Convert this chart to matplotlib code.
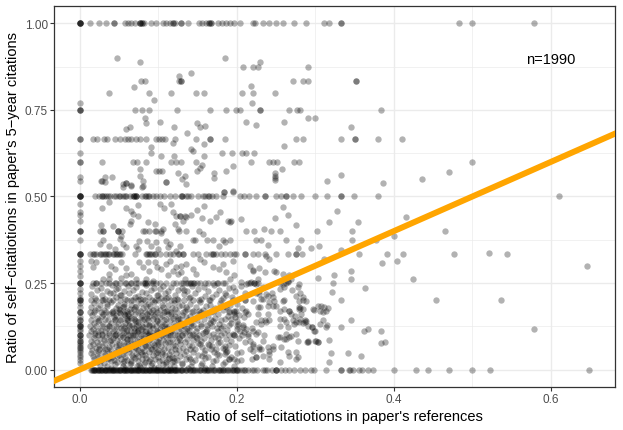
import matplotlib
matplotlib.use('Agg')
import matplotlib.pyplot as plt
import numpy as np

# x = 0 column (no self-citations in references)
col_zero_y = [1.0, 1.0, 1.0, 1.0, 1.0, 0.769, 0.75, 0.75, 0.75, 0.667, 0.667, 0.625, 0.6, 0.6,
              0.556, 0.545, 0.5, 0.5, 0.5, 0.5, 0.5, 0.478, 0.454, 0.447, 0.43, 0.4, 0.4, 0.4,
              0.375, 0.333, 0.333, 0.333, 0.333, 0.315, 0.298, 0.286, 0.271, 0.25, 0.25, 0.25,
              0.25, 0.233, 0.222, 0.207, 0.2, 0.2, 0.2, 0.193, 0.182, 0.167, 0.167, 0.167, 0.152,
              0.143, 0.143, 0.133, 0.125, 0.125, 0.125, 0.118, 0.111, 0.1, 0.1, 0.1, 0.091, 0.083,
              0.083, 0.077, 0.071, 0.0667, 0.0625, 0.057, 0.05, 0.043, 0.037, 0.028, 0.02]

# horizontal rows at common ratios: x values
row_zero = [0.015, 0.017, 0.019, 0.021, 0.023, 0.025, 0.027, 0.029, 0.031, 0.033, 0.035, 0.037,
            0.039, 0.041, 0.043, 0.045, 0.047, 0.049, 0.051, 0.053, 0.055, 0.057, 0.059, 0.061,
            0.063, 0.065, 0.067, 0.069, 0.071, 0.073, 0.075, 0.077, 0.079, 0.081, 0.083, 0.085,
            0.087, 0.089, 0.091, 0.093, 0.095, 0.097, 0.099, 0.101, 0.103, 0.105, 0.107, 0.109,
            0.111, 0.113, 0.115, 0.117, 0.119, 0.121, 0.123, 0.125, 0.128, 0.131, 0.134, 0.137,
            0.140, 0.143, 0.146, 0.149, 0.152, 0.155, 0.158, 0.161, 0.164, 0.167, 0.170, 0.173,
            0.176, 0.179, 0.182, 0.185, 0.188, 0.191, 0.194, 0.197, 0.200, 0.203, 0.207, 0.211,
            0.215, 0.219, 0.226, 0.233, 0.239, 0.2455, 0.25, 0.25, 0.2566, 0.262, 0.267, 0.2735,
            0.28, 0.2863, 0.2947, 0.299, 0.3139, 0.333, 0.333, 0.3426, 0.3444, 0.3478, 0.3562,
            0.3597, 0.3668, 0.374, 0.400, 0.428, 0.4436, 0.470, 0.499, 0.523, 0.649,
            0.016, 0.020, 0.024, 0.028, 0.032, 0.036, 0.040, 0.044, 0.048, 0.052, 0.056, 0.060,
            0.064, 0.068, 0.072, 0.076, 0.080, 0.084, 0.088, 0.092, 0.096, 0.100, 0.104, 0.108,
            0.112, 0.116, 0.120, 0.124, 0.129, 0.135, 0.141, 0.147, 0.153, 0.159, 0.165, 0.171,
            0.177, 0.183, 0.189, 0.195, 0.201, 0.209, 0.018, 0.026, 0.034, 0.042, 0.05, 0.058,
            0.066, 0.074, 0.082, 0.09, 0.098, 0.106, 0.114, 0.122, 0.13, 0.144, 0.162, 0.18,
            0.199, 0.222, 0.236, 0.25]
row_one = [0.0127, 0.0246, 0.034, 0.0433, 0.0433, 0.0573, 0.0615, 0.0658, 0.07, 0.0763, 0.0763,
           0.0763, 0.0797, 0.0797, 0.0814, 0.0912, 0.0967, 0.106, 0.1094, 0.1145, 0.1187, 0.1187,
           0.1221, 0.1294, 0.1294, 0.1378, 0.1514, 0.1561, 0.1612, 0.1645, 0.1645, 0.1676, 0.1676,
           0.176, 0.1816, 0.1867, 0.1917, 0.1972, 0.2045, 0.2205, 0.2231, 0.2332, 0.2409, 0.2502,
           0.2587, 0.2735, 0.2884, 0.3117, 0.3181, 0.333, 0.333, 0.4835, 0.4992, 0.578]
row_half = [0.0191, 0.0246, 0.0289, 0.034, 0.0382, 0.0437, 0.05, 0.0551, 0.0594, 0.0645, 0.0687,
            0.0687, 0.0721, 0.0721, 0.0798, 0.084, 0.0882, 0.0933, 0.0976, 0.1027, 0.1081, 0.1145,
            0.1221, 0.1306, 0.1378, 0.028, 0.031, 0.036, 0.047, 0.052, 0.058, 0.068, 0.072, 0.083,
            0.087, 0.13, 0.1294, 0.1349, 0.1421, 0.1505, 0.1569, 0.1632, 0.1688, 0.1739, 0.1823,
            0.2036, 0.2099, 0.2154, 0.2248, 0.2354, 0.2354, 0.2502, 0.2566, 0.2629, 0.2629, 0.2714,
            0.2821, 0.16, 0.165, 0.2993, 0.315, 0.333, 0.333, 0.349, 0.380, 0.610]
row_third = [0.0127, 0.017, 0.021, 0.0254, 0.0296, 0.034, 0.038, 0.042, 0.0458, 0.050, 0.0543,
             0.070, 0.084, 0.088, 0.0925, 0.0954, 0.1018, 0.110, 0.1145, 0.1187, 0.125, 0.019,
             0.027, 0.032, 0.036, 0.044, 0.048, 0.052, 0.086, 0.09, 0.096, 0.127, 0.1315, 0.144,
             0.1505, 0.161, 0.1675, 0.1696, 0.174, 0.1794, 0.1845, 0.191, 0.197, 0.1994, 0.211,
             0.2205, 0.227, 0.2366, 0.250, 0.265, 0.2757, 0.2834, 0.1315, 0.17, 0.211, 0.2757,
             0.356, 0.391, 0.412, 0.477, 0.5445]
row_quarter = [0.021, 0.0276, 0.034, 0.0467, 0.0585, 0.0658, 0.0721, 0.0836, 0.0836, 0.0912,
               0.0976, 0.110, 0.123, 0.1315, 0.138, 0.142, 0.146, 0.1527, 0.16, 0.1696, 0.176,
               0.1824, 0.129, 0.135, 0.14, 0.145, 0.15, 0.1636, 0.1743, 0.1857, 0.2173, 0.2215,
               0.2215, 0.017, 0.0212, 0.038, 0.0445, 0.0509, 0.0573, 0.0657, 0.074, 0.0806,
               0.0857, 0.094, 0.1018, 0.119, 0.2269, 0.2545, 0.2629, 0.322]
row_fifth = [0.014, 0.021, 0.03, 0.037, 0.043, 0.052, 0.06, 0.068, 0.074, 0.083, 0.092, 0.1,
             0.108, 0.117, 0.125, 0.133, 0.145, 0.152, 0.165, 0.18, 0.195, 0.21, 0.333, 0.285,
             0.4538, 0.537]
row_sixth = [0.013, 0.019, 0.027, 0.034, 0.041, 0.05, 0.058, 0.066, 0.075, 0.083, 0.091, 0.099,
             0.108, 0.116, 0.124, 0.132, 0.143, 0.155, 0.17, 0.19, 0.21]
row_seventh = [0.014, 0.025, 0.036, 0.045, 0.052, 0.062, 0.07, 0.079, 0.087, 0.098, 0.107, 0.115,
               0.125, 0.138, 0.15, 0.167, 0.18]
row_eighth = [0.013, 0.021, 0.029, 0.038, 0.047, 0.055, 0.063, 0.072, 0.08, 0.088, 0.097, 0.105,
              0.114, 0.122, 0.133, 0.142, 0.155, 0.168, 0.183, 0.2]
row_ninth = [0.015, 0.024, 0.033, 0.042, 0.05, 0.059, 0.066, 0.074, 0.083, 0.09, 0.099, 0.108,
             0.117, 0.126, 0.137, 0.148, 0.161, 0.176]
row_tenth = [0.012, 0.02, 0.028, 0.037, 0.045, 0.054, 0.062, 0.07, 0.078, 0.087, 0.095, 0.104,
             0.112, 0.121, 0.131, 0.141, 0.152, 0.165, 0.18, 0.196]
row_2third = [0.0169, 0.022, 0.0305, 0.0347, 0.0445, 0.0509, 0.0573, 0.0615, 0.0658, 0.0721,
              0.0763, 0.084, 0.0976, 0.1009, 0.1052, 0.109, 0.1209, 0.148, 0.1663, 0.1663,
              0.1845, 0.2757, 0.285, 0.333, 0.3508, 0.3508, 0.380, 0.411]
row_06 = [0.0288, 0.068, 0.0729, 0.0848, 0.116, 0.123, 0.129, 0.1485, 0.218, 0.241, 0.246,
          0.251, 0.2727, 0.279, 0.499]
row_075 = [0.0708, 0.0797, 0.0878, 0.1243, 0.166, 0.1866, 0.199, 0.2045, 0.230, 0.230, 0.266,
           0.277, 0.28, 0.3838]
row_08 = [0.0369, 0.0878, 0.1158, 0.148, 0.158, 0.207, 0.2205, 0.249]
row_083 = [0.0776, 0.0836, 0.1265, 0.1285, 0.1285, 0.272, 0.285, 0.291, 0.352, 0.352]

# scattered points (x, y)
pts_top = [(0.048, 0.9), (0.0767, 0.889), (0.069, 0.817), (0.0945, 0.778), (0.0827, 0.727),
           (0.0848, 0.713), (0.0589, 0.694), (0.0636, 0.70), (0.0288, 0.545), (0.033, 0.556),
           (0.0416, 0.556), (0.055, 0.527), (0.0585, 0.539), (0.0658, 0.533), (0.0763, 0.58),
           (0.077, 0.56), (0.081, 0.545), (0.08, 0.527), (0.091, 0.642), (0.091, 0.625),
           (0.103, 0.714), (0.0976, 0.573), (0.101, 0.573), (0.1047, 0.573), (0.11, 0.543),
           (0.104, 0.616), (0.1196, 0.70), (0.12, 0.616), (0.1187, 0.654), (0.126, 0.847),
           (0.125, 0.567), (0.131, 0.55), (0.134, 0.56), (0.137, 0.683), (0.142, 0.857),
           (0.142, 0.636), (0.145, 0.63), (0.15, 0.712), (0.153, 0.70), (0.16, 0.703),
           (0.149, 0.573), (0.158, 0.651), (0.158, 0.618), (0.156, 0.59), (0.153, 0.583),
           (0.171, 0.567), (0.171, 0.553), (0.1845, 0.90), (0.1815, 0.625), (0.1938, 0.625),
           (0.1866, 0.573), (0.1947, 0.587), (0.184, 0.514), (0.195, 0.514), (0.2078, 0.874),
           (0.212, 0.714), (0.207, 0.625), (0.212, 0.625), (0.2226, 0.625), (0.218, 0.818),
           (0.221, 0.875), (0.227, 0.875), (0.230, 0.889), (0.219, 0.769), (0.2248, 0.706),
           (0.249, 0.567), (0.249, 0.56), (0.249, 0.553), (0.258, 0.58), (0.2608, 0.647),
           (0.26, 0.714), (0.291, 0.875), (0.2905, 0.727), (0.300, 0.727), (0.3456, 0.70),
           (0.333, 0.562), (0.315, 0.546), (0.3868, 0.538), (0.4355, 0.55), (0.47, 0.572),
           (0.249, 0.548), (0.0276, 0.545), (0.032, 0.542), (0.055, 0.536), (0.0594, 0.539),
           (0.0657, 0.531), (0.0806, 0.531), (0.110, 0.542), (0.1357, 0.536)]
pts_mid = [(0.037, 0.483), (0.029, 0.466), (0.0594, 0.466), (0.0657, 0.459), (0.074, 0.474),
           (0.1018, 0.478), (0.108, 0.466), (0.1166, 0.478), (0.119, 0.454), (0.123, 0.443),
           (0.128, 0.443), (0.128, 0.443), (0.134, 0.443), (0.0678, 0.449), (0.074, 0.443),
           (0.0276, 0.418), (0.0297, 0.401), (0.0424, 0.416), (0.049, 0.401), (0.049, 0.401),
           (0.053, 0.387), (0.0636, 0.42), (0.0657, 0.43), (0.087, 0.425), (0.0954, 0.42),
           (0.097, 0.401), (0.0806, 0.401), (0.106, 0.406), (0.104, 0.396), (0.121, 0.42),
           (0.125, 0.406), (0.0254, 0.4), (0.0296, 0.4), (0.0487, 0.4), (0.0543, 0.4),
           (0.0827, 0.4), (0.089, 0.4), (0.0954, 0.4), (0.104, 0.4), (0.127, 0.4), (0.135, 0.4),
           (0.212, 0.4), (0.2218, 0.4), (0.2345, 0.406), (0.244, 0.4), (0.2545, 0.4),
           (0.0254, 0.363), (0.0297, 0.375), (0.037, 0.358), (0.0445, 0.348), (0.051, 0.377),
           (0.055, 0.363), (0.0594, 0.353), (0.072, 0.358), (0.074, 0.348), (0.076, 0.372),
           (0.0857, 0.372), (0.0912, 0.358), (0.097, 0.368), (0.0996, 0.348), (0.110, 0.372),
           (0.1124, 0.353), (0.1145, 0.363), (0.123, 0.343), (0.1273, 0.358), (0.1149, 0.315),
           (0.0149, 0.315), (0.017, 0.296), (0.0212, 0.31), (0.034, 0.315), (0.0403, 0.30),
           (0.0445, 0.291), (0.037, 0.277), (0.053, 0.31), (0.0594, 0.293), (0.0594, 0.272),
           (0.0657, 0.277), (0.076, 0.31), (0.0806, 0.296), (0.087, 0.31), (0.0882, 0.286),
           (0.0954, 0.31), (0.0984, 0.296), (0.104, 0.291), (0.1094, 0.305), (0.1124, 0.272),
           (0.119, 0.286), (0.123, 0.296), (0.1251, 0.277), (0.1294, 0.281), (0.1336, 0.262),
           (0.0297, 0.262), (0.038, 0.262), (0.053, 0.264), (0.072, 0.262), (0.0848, 0.262),
           (0.0933, 0.257), (0.1837, 0.514), (0.1951, 0.516), (0.1349, 0.44), (0.1421, 0.447),
           (0.1315, 0.430), (0.149, 0.461), (0.158, 0.472), (0.156, 0.437), (0.1663, 0.429),
           (0.1739, 0.44), (0.179, 0.454), (0.1888, 0.429), (0.193, 0.429), (0.191, 0.425),
           (0.2057, 0.435), (0.152, 0.399), (0.1569, 0.392), (0.144, 0.375), (0.1475, 0.375),
           (0.1624, 0.373), (0.1696, 0.375), (0.182, 0.373), (0.1909, 0.375), (0.225, 0.375),
           (0.231, 0.375), (0.178, 0.358), (0.1845, 0.368), (0.2587, 0.469), (0.265, 0.447),
           (0.2757, 0.418), (0.249, 0.437), (0.2396, 0.36), (0.2629, 0.375), (0.2777, 0.35),
           (0.2163, 0.298), (0.2205, 0.289), (0.2282, 0.294), (0.25, 0.283), (0.2672, 0.273),
           (0.265, 0.254), (0.2269, 0.262), (0.212, 0.248), (0.1294, 0.298), (0.136, 0.305),
           (0.144, 0.291), (0.1484, 0.277), (0.153, 0.319), (0.159, 0.31), (0.1696, 0.296),
           (0.178, 0.291), (0.1866, 0.281), (0.1824, 0.305), (0.1951, 0.315), (0.1909, 0.262),
           (0.197, 0.272), (0.2057, 0.252), (0.2375, 0.329), (0.2417, 0.319)]
pts_right = [(0.328, 0.458), (0.4156, 0.44), (0.317, 0.427), (0.354, 0.427), (0.3024, 0.40),
             (0.347, 0.40), (0.4656, 0.40), (0.282, 0.375), (0.347, 0.374), (0.3775, 0.374),
             (0.40, 0.385), (0.294, 0.35), (0.305, 0.357), (0.333, 0.346), (0.3117, 0.3196),
             (0.5208, 0.338), (0.646, 0.30), (0.3855, 0.307), (0.4046, 0.313), (0.424, 0.263),
             (0.303, 0.266), (0.3244, 0.274), (0.3456, 0.286), (0.3456, 0.262), (0.321, 0.225),
             (0.363, 0.235), (0.285, 0.21), (0.28, 0.179), (0.299, 0.173), (0.304, 0.183),
             (0.3075, 0.183), (0.316, 0.179), (0.3096, 0.167), (0.28, 0.146), (0.285, 0.135),
             (0.2884, 0.1415), (0.3096, 0.1426), (0.315, 0.129), (0.333, 0.124), (0.3456, 0.1426),
             (0.296, 0.124), (0.296, 0.124), (0.300, 0.111), (0.300, 0.084), (0.304, 0.079),
             (0.2897, 0.079), (0.3177, 0.0866), (0.3626, 0.1126), (0.3667, 0.1175),
             (0.3838, 0.111), (0.3838, 0.077), (0.3885, 0.081), (0.342, 0.047), (0.3584, 0.0387),
             (0.3206, 0.049), (0.3177, 0.023), (0.578, 0.1175),
             (0.2247, 0.137), (0.231, 0.142), (0.2366, 0.142), (0.2417, 0.142), (0.2269, 0.108),
             (0.231, 0.06), (0.2417, 0.055), (0.2247, 0.036), (0.2417, 0.031), (0.246, 0.069),
             (0.2565, 0.065), (0.2545, 0.093), (0.263, 0.089), (0.2672, 0.093), (0.2757, 0.103),
             (0.2777, 0.084), (0.2545, 0.127), (0.263, 0.137), (0.2714, 0.142), (0.2799, 0.137),
             (0.2863, 0.142), (0.2905, 0.079), (0.2608, 0.175), (0.2672, 0.17), (0.2736, 0.156),
             (0.2799, 0.18), (0.2884, 0.199), (0.2417, 0.195), (0.2502, 0.185), (0.2545, 0.17),
             (0.2333, 0.204), (0.2289, 0.228), (0.2375, 0.219), (0.246, 0.209), (0.2545, 0.233),
             (0.2587, 0.248), (0.265, 0.257), (0.2799, 0.248), (0.2757, 0.031), (0.2672, 0.04),
             (0.2545, 0.021), (0.2163, 0.084), (0.2205, 0.074), (0.2289, 0.065), (0.2141, 0.103),
             (0.212, 0.118)]
# the cloud thinning out between 0.18 and 0.32
pts_fade = [(0.2205, 0.2859), (0.2354, 0.2811), (0.2481, 0.2859), (0.2587, 0.2763),
            (0.1951, 0.2378), (0.2142, 0.2503), (0.2184, 0.2522), (0.2248, 0.2474),
            (0.2332, 0.2378), (0.229, 0.2185), (0.2205, 0.1993), (0.2311, 0.2041),
            (0.2396, 0.2137), (0.2481, 0.1993), (0.2587, 0.1993), (0.2608, 0.2378),
            (0.2693, 0.2618), (0.2778, 0.2378), (0.2799, 0.1993), (0.2757, 0.2137),
            (0.1845, 0.1848), (0.1908, 0.1704), (0.1972, 0.1656), (0.1993, 0.1704),
            (0.193, 0.1463), (0.2014, 0.1319), (0.2078, 0.1223), (0.2036, 0.1126),
            (0.2099, 0.1078), (0.2205, 0.1126), (0.2248, 0.103), (0.2142, 0.0982),
            (0.2332, 0.0838), (0.2396, 0.0645), (0.2417, 0.0453), (0.246, 0.0597),
            (0.2523, 0.0934), (0.2629, 0.103), (0.2693, 0.0982), (0.2757, 0.1367),
            (0.2799, 0.1752), (0.2672, 0.1704), (0.2693, 0.1608), (0.2608, 0.1463),
            (0.2545, 0.1463), (0.265, 0.1223), (0.2735, 0.1319), (0.2863, 0.1367),
            (0.2905, 0.1271), (0.299, 0.1126), (0.3054, 0.1704), (0.3117, 0.18),
            (0.3139, 0.1704), (0.2969, 0.1752), (0.2905, 0.0838), (0.3011, 0.0838),
            (0.3032, 0.0789), (0.2757, 0.0501), (0.2778, 0.0357), (0.265, 0.0501),
            (0.2608, 0.0886), (0.246, 0.1848), (0.2396, 0.1848), (0.2269, 0.1608),
            (0.2269, 0.18), (0.212, 0.1704), (0.2099, 0.1511), (0.2375, 0.1367),
            (0.2311, 0.1319), (0.229, 0.0597), (0.2332, 0.0405), (0.2205, 0.0693),
            (0.2205, 0.0549), (0.2248, 0.0357), (0.2163, 0.0597), (0.1951, 0.103),
            (0.1845, 0.0693), (0.1866, 0.0501), (0.1908, 0.0309), (0.3054, 0.1319),
            (0.3139, 0.1223), (0.282, 0.1608)]
pts_low = [(0.016, 0.241), (0.027, 0.237), (0.041, 0.244), (0.049, 0.236), (0.062, 0.242),
           (0.072, 0.238), (0.085, 0.245), (0.095, 0.237), (0.106, 0.243), (0.117, 0.239),
           (0.13, 0.236), (0.143, 0.242), (0.158, 0.238), (0.171, 0.244), (0.19, 0.237),
           (0.205, 0.241), (0.022, 0.23), (0.035, 0.226), (0.046, 0.232), (0.057, 0.227),
           (0.068, 0.231), (0.079, 0.225), (0.091, 0.229), (0.102, 0.233), (0.113, 0.226),
           (0.125, 0.231), (0.137, 0.228), (0.151, 0.233), (0.164, 0.226), (0.178, 0.23),
           (0.198, 0.227), (0.015, 0.219), (0.028, 0.215), (0.039, 0.221), (0.053, 0.217),
           (0.063, 0.222), (0.075, 0.214), (0.084, 0.22), (0.098, 0.216), (0.109, 0.222),
           (0.121, 0.215), (0.133, 0.219), (0.147, 0.221), (0.16, 0.214), (0.174, 0.219),
           (0.186, 0.216), (0.211, 0.22), (0.02, 0.208), (0.033, 0.204), (0.047, 0.21),
           (0.058, 0.205), (0.07, 0.209), (0.081, 0.203), (0.089, 0.211), (0.104, 0.206),
           (0.112, 0.21), (0.124, 0.204), (0.139, 0.208), (0.155, 0.205), (0.168, 0.21),
           (0.182, 0.206), (0.194, 0.209), (0.018, 0.192), (0.026, 0.188), (0.04, 0.194),
           (0.049, 0.187), (0.057, 0.191), (0.066, 0.186), (0.078, 0.193), (0.087, 0.189),
           (0.095, 0.195), (0.113, 0.188), (0.12, 0.193), (0.131, 0.187), (0.14, 0.191),
           (0.153, 0.194), (0.166, 0.188), (0.179, 0.192), (0.192, 0.186), (0.2, 0.19),
           (0.015, 0.182), (0.024, 0.178), (0.035, 0.183), (0.046, 0.177), (0.055, 0.181),
           (0.064, 0.176), (0.072, 0.183), (0.081, 0.179), (0.09, 0.184), (0.097, 0.177),
           (0.106, 0.181), (0.118, 0.178), (0.127, 0.183), (0.137, 0.176), (0.148, 0.18),
           (0.161, 0.184), (0.173, 0.177), (0.187, 0.181), (0.207, 0.178), (0.02, 0.171),
           (0.031, 0.173), (0.043, 0.168), (0.051, 0.172), (0.061, 0.169), (0.069, 0.174),
           (0.077, 0.17), (0.088, 0.168), (0.094, 0.173), (0.103, 0.171), (0.111, 0.169),
           (0.122, 0.174), (0.134, 0.17), (0.144, 0.168), (0.157, 0.172), (0.169, 0.17),
           (0.183, 0.173), (0.197, 0.169), (0.016, 0.159), (0.028, 0.156), (0.038, 0.161),
           (0.047, 0.157), (0.056, 0.16), (0.063, 0.155), (0.071, 0.162), (0.08, 0.158),
           (0.089, 0.154), (0.096, 0.16), (0.105, 0.157), (0.113, 0.161), (0.121, 0.155),
           (0.13, 0.159), (0.14, 0.156), (0.151, 0.161), (0.163, 0.157), (0.176, 0.16),
           (0.189, 0.155), (0.203, 0.159), (0.022, 0.149), (0.032, 0.146), (0.044, 0.151),
           (0.053, 0.147), (0.06, 0.15), (0.069, 0.145), (0.078, 0.152), (0.086, 0.148),
           (0.093, 0.146), (0.102, 0.151), (0.11, 0.147), (0.119, 0.149), (0.128, 0.145),
           (0.136, 0.151), (0.147, 0.148), (0.159, 0.146), (0.172, 0.15), (0.185, 0.147),
           (0.198, 0.152), (0.019, 0.134), (0.03, 0.131), (0.04, 0.136), (0.049, 0.132),
           (0.058, 0.135), (0.067, 0.13), (0.075, 0.137), (0.084, 0.133), (0.092, 0.129),
           (0.101, 0.135), (0.109, 0.132), (0.12, 0.136), (0.13, 0.13), (0.142, 0.134),
           (0.154, 0.131), (0.166, 0.136), (0.178, 0.132), (0.193, 0.135), (0.208, 0.13),
           (0.017, 0.118), (0.027, 0.115), (0.035, 0.12), (0.044, 0.116), (0.053, 0.119),
           (0.061, 0.114), (0.069, 0.121), (0.078, 0.117), (0.085, 0.113), (0.094, 0.119),
           (0.103, 0.116), (0.111, 0.12), (0.119, 0.114), (0.129, 0.118), (0.139, 0.115),
           (0.15, 0.12), (0.162, 0.116), (0.175, 0.119), (0.188, 0.114), (0.2, 0.118),
           (0.02, 0.105), (0.029, 0.102), (0.038, 0.107), (0.047, 0.103), (0.056, 0.106),
           (0.064, 0.101), (0.073, 0.108), (0.081, 0.104), (0.088, 0.1), (0.097, 0.106),
           (0.106, 0.103), (0.115, 0.107), (0.124, 0.101), (0.134, 0.105), (0.145, 0.102),
           (0.157, 0.107), (0.17, 0.103), (0.184, 0.106), (0.197, 0.101), (0.018, 0.092),
           (0.026, 0.089), (0.034, 0.094), (0.043, 0.09), (0.051, 0.093), (0.06, 0.088),
           (0.068, 0.095), (0.076, 0.091), (0.085, 0.087), (0.093, 0.093), (0.101, 0.09),
           (0.11, 0.094), (0.118, 0.088), (0.127, 0.092), (0.137, 0.089), (0.148, 0.094),
           (0.159, 0.09), (0.172, 0.093), (0.186, 0.088), (0.203, 0.092), (0.014, 0.084),
           (0.022, 0.081), (0.031, 0.086), (0.039, 0.082), (0.048, 0.085), (0.056, 0.08),
           (0.064, 0.087), (0.073, 0.083), (0.081, 0.079), (0.089, 0.085), (0.098, 0.082),
           (0.106, 0.086), (0.115, 0.08), (0.124, 0.084), (0.134, 0.081), (0.144, 0.086),
           (0.155, 0.082), (0.167, 0.085), (0.179, 0.08), (0.193, 0.084), (0.017, 0.075),
           (0.025, 0.072), (0.033, 0.077), (0.041, 0.073), (0.05, 0.076), (0.058, 0.071),
           (0.066, 0.078), (0.075, 0.074), (0.083, 0.07), (0.092, 0.076), (0.1, 0.073),
           (0.109, 0.077), (0.119, 0.071), (0.128, 0.075), (0.139, 0.072), (0.151, 0.077),
           (0.163, 0.073), (0.176, 0.076), (0.19, 0.071), (0.013, 0.067), (0.021, 0.064),
           (0.029, 0.069), (0.037, 0.065), (0.046, 0.068), (0.054, 0.063), (0.062, 0.07),
           (0.071, 0.066), (0.079, 0.062), (0.087, 0.068), (0.096, 0.065), (0.104, 0.069),
           (0.113, 0.063), (0.122, 0.067), (0.132, 0.064), (0.143, 0.069), (0.156, 0.065),
           (0.169, 0.068), (0.183, 0.063), (0.198, 0.067), (0.016, 0.058), (0.024, 0.055),
           (0.032, 0.06), (0.04, 0.056), (0.049, 0.059), (0.057, 0.054), (0.066, 0.061),
           (0.074, 0.057), (0.082, 0.053), (0.091, 0.059), (0.1, 0.056), (0.108, 0.06),
           (0.117, 0.054), (0.126, 0.058), (0.136, 0.055), (0.147, 0.06), (0.16, 0.056),
           (0.174, 0.059), (0.188, 0.054), (0.014, 0.049), (0.022, 0.046), (0.03, 0.051),
           (0.038, 0.047), (0.047, 0.05), (0.055, 0.045), (0.063, 0.052), (0.072, 0.048),
           (0.08, 0.044), (0.088, 0.05), (0.097, 0.047), (0.105, 0.051), (0.114, 0.045),
           (0.123, 0.049), (0.133, 0.046), (0.145, 0.051), (0.158, 0.047), (0.171, 0.05),
           (0.185, 0.045), (0.2, 0.049), (0.017, 0.04), (0.025, 0.037), (0.033, 0.042),
           (0.041, 0.038), (0.05, 0.041), (0.058, 0.036), (0.067, 0.043), (0.075, 0.039),
           (0.084, 0.035), (0.093, 0.041), (0.1, 0.038), (0.109, 0.042), (0.118, 0.036),
           (0.128, 0.04), (0.139, 0.037), (0.151, 0.042), (0.164, 0.038), (0.178, 0.041),
           (0.193, 0.036), (0.019, 0.031), (0.027, 0.028), (0.036, 0.033), (0.044, 0.029),
           (0.053, 0.032), (0.061, 0.027), (0.07, 0.034), (0.079, 0.03), (0.088, 0.026),
           (0.096, 0.032), (0.105, 0.029), (0.114, 0.033), (0.124, 0.027), (0.135, 0.031),
           (0.147, 0.028), (0.16, 0.033), (0.174, 0.029), (0.19, 0.032), (0.205, 0.027),
           (0.022, 0.023), (0.031, 0.02), (0.04, 0.025), (0.048, 0.021), (0.057, 0.024),
           (0.066, 0.019), (0.075, 0.026), (0.083, 0.022), (0.092, 0.018), (0.101, 0.024),
           (0.11, 0.021), (0.12, 0.025), (0.131, 0.019), (0.143, 0.023), (0.156, 0.02),
           (0.17, 0.025), (0.185, 0.021), (0.2, 0.024), (0.026, 0.014), (0.035, 0.011),
           (0.045, 0.016), (0.055, 0.012), (0.064, 0.015), (0.073, 0.01), (0.082, 0.017),
           (0.091, 0.013), (0.1, 0.009), (0.11, 0.015), (0.12, 0.012), (0.13, 0.016),
           (0.142, 0.01), (0.155, 0.014), (0.168, 0.011), (0.182, 0.016), (0.197, 0.012),
           (0.04, 0.006), (0.058, 0.005), (0.077, 0.007), (0.095, 0.005), (0.115, 0.006),
           (0.138, 0.005), (0.16, 0.006)]
pts_core = [(0.035, 0.19), (0.05, 0.175), (0.062, 0.16), (0.045, 0.145), (0.072, 0.14),
            (0.088, 0.13), (0.056, 0.12), (0.1, 0.11), (0.068, 0.1), (0.082, 0.09), (0.04, 0.085),
            (0.113, 0.08), (0.095, 0.07), (0.06, 0.06), (0.078, 0.05), (0.105, 0.045),
            (0.048, 0.04), (0.09, 0.03), (0.065, 0.025), (0.12, 0.035), (0.035, 0.06),
            (0.055, 0.095), (0.075, 0.115), (0.095, 0.155), (0.11, 0.17), (0.125, 0.15),
            (0.085, 0.185), (0.065, 0.2), (0.042, 0.22), (0.1, 0.215), (0.12, 0.2), (0.135, 0.18),
            (0.13, 0.1), (0.14, 0.06), (0.15, 0.09), (0.145, 0.13), (0.16, 0.11), (0.17, 0.14),
            (0.165, 0.07), (0.18, 0.12), (0.175, 0.045), (0.19, 0.1), (0.2, 0.14), (0.21, 0.2),
            (0.215, 0.16), (0.22, 0.12), (0.21, 0.08), (0.205, 0.05), (0.22, 0.03), (0.23, 0.18),
            (0.235, 0.1), (0.24, 0.16), (0.245, 0.22), (0.225, 0.22), (0.26, 0.2), (0.27, 0.23),
            (0.28, 0.22), (0.285, 0.175)]
# darker clumps inside the core of the cloud
pts_clump = [(0.052, 0.165), (0.058, 0.158), (0.066, 0.15), (0.061, 0.142), (0.074, 0.128),
             (0.081, 0.122), (0.069, 0.112), (0.089, 0.107), (0.093, 0.098), (0.078, 0.083),
             (0.071, 0.077), (0.085, 0.068), (0.092, 0.06), (0.099, 0.052), (0.083, 0.043),
             (0.068, 0.037), (0.112, 0.03), (0.118, 0.022), (0.106, 0.017), (0.06, 0.088),
             (0.045, 0.1), (0.038, 0.125), (0.03, 0.16), (0.028, 0.2), (0.052, 0.215),
             (0.077, 0.205), (0.096, 0.2), (0.105, 0.188), (0.116, 0.162), (0.128, 0.135),
             (0.137, 0.12), (0.143, 0.1), (0.153, 0.075), (0.121, 0.06), (0.128, 0.087),
             (0.108, 0.125), (0.098, 0.14), (0.086, 0.162), (0.07, 0.18), (0.043, 0.165),
             (0.024, 0.14), (0.023, 0.1), (0.025, 0.06), (0.036, 0.03), (0.055, 0.018),
             (0.076, 0.013), (0.14, 0.03), (0.156, 0.04), (0.167, 0.06), (0.176, 0.09),
             (0.162, 0.128), (0.152, 0.17), (0.166, 0.2), (0.185, 0.22), (0.196, 0.16),
             (0.19, 0.13), (0.207, 0.1), (0.185, 0.06), (0.197, 0.03), (0.063, 0.128),
             (0.088, 0.095), (0.072, 0.062), (0.1, 0.08), (0.115, 0.1), (0.05, 0.07),
             (0.082, 0.145), (0.057, 0.185), (0.11, 0.207), (0.14, 0.21), (0.133, 0.23)]

n_label = 'n=1990'

# assemble x / y
rows = [(row_zero, 0.0), (row_one, 1.0), (row_half, 0.5), (row_third, 1 / 3),
        (row_quarter, 0.25), (row_fifth, 0.2), (row_sixth, 1 / 6), (row_seventh, 1 / 7),
        (row_eighth, 0.125), (row_ninth, 1 / 9), (row_tenth, 0.1), (row_2third, 2 / 3),
        (row_06, 0.6), (row_075, 0.75), (row_08, 0.8), (row_083, 5 / 6)]
xs = [0.0] * len(col_zero_y)
ys = list(col_zero_y)
for rx, ry in rows:
    xs += rx
    ys += [ry] * len(rx)
for pts in (pts_top, pts_mid, pts_right, pts_fade, pts_low, pts_core, pts_clump):
    xs += [p[0] for p in pts]
    ys += [p[1] for p in pts]
xs = np.array(xs)
ys = np.array(ys)

plt.rcParams['font.family'] = ['Liberation Sans', 'DejaVu Sans']

fig = plt.figure(figsize=(6.23, 4.31), dpi=100)
fig.subplots_adjust(left=0.0867, right=0.9872, top=0.9838, bottom=0.0998)
ax = fig.add_subplot(111)

ax.set_xlim(-0.0325, 0.6815)
ax.set_ylim(-0.05, 1.05)

ax.set_xticks([0, 0.2, 0.4, 0.6])
ax.set_xticklabels(['0.0', '0.2', '0.4', '0.6'])
ax.set_yticks([0, 0.25, 0.5, 0.75, 1.0])
ax.set_yticklabels(['0.00', '0.25', '0.50', '0.75', '1.00'])
ax.set_xticks([0.1, 0.3, 0.5], minor=True)
ax.set_yticks([0.125, 0.375, 0.625, 0.875], minor=True)
ax.grid(which='major', color='#EBEBEB', linewidth=1.0)
ax.grid(which='minor', color='#EBEBEB', linewidth=0.5)
ax.set_axisbelow(True)
ax.tick_params(which='minor', length=0)
ax.tick_params(which='major', length=3, width=0.8, color='#333333',
               labelsize=8.5, labelcolor='#4D4D4D', pad=1.5)
for s in ax.spines.values():
    s.set_color('#333333')
    s.set_linewidth(0.9)

ax.scatter(xs, ys, s=21, color='black', alpha=0.3, linewidths=0, zorder=2)
ax.axline((0, 0), slope=1, color='#FFA500', linewidth=4.3, zorder=3)

ax.text(0.6, 0.897, n_label, fontsize=10.5, ha='center', va='center', color='black')

ax.set_xlabel("Ratio of self\u2212citatiotions in paper's references", fontsize=10.5, labelpad=3)
ax.set_ylabel("Ratio of self\u2212citatiotions in paper's 5\u2212year citations", fontsize=10.5,
              labelpad=3)

fig.savefig('out.png', dpi=100)
